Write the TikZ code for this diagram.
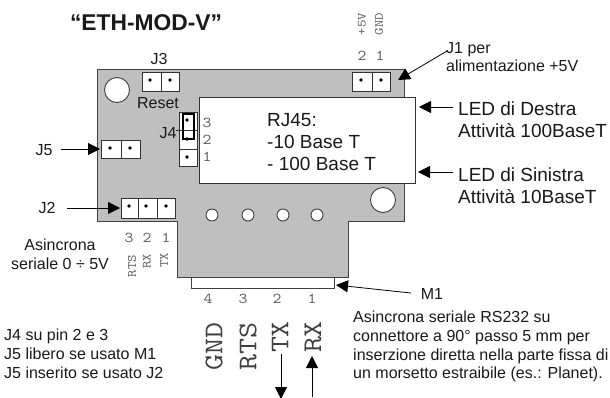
\documentclass[tikz,border=0pt]{standalone}
\usepackage{fontspec}
\setmainfont{Liberation Sans}
\setmonofont[FakeStretch=1.15]{Latin Modern Mono}
\usepackage{tikz}
\usetikzlibrary{arrows.meta}
\tikzset{
  pin/.style={circle, fill=black, inner sep=0pt, minimum size=3.6pt},
  hole/.style={circle, draw=black!75, fill=white, line width=0.9pt, inner sep=0pt},
  header/.style={draw=black!80, fill=white, line width=0.8pt},
  txt/.style={inner sep=0pt, text=black!90},
  small/.style={txt, font=\fontsize{16}{18.6}\selectfont},
  large/.style={txt, font=\fontsize{19}{22}\selectfont},
  mono/.style={inner sep=0pt, text=black!65, font=\ttfamily\fontsize{15}{15}\selectfont},
  monotiny/.style={inner sep=0pt, text=black!65, rotate=90, font=\ttfamily\fontsize{12.5}{12.5}\selectfont},
  monobig/.style={inner sep=0pt, text=black!75, rotate=90, font=\ttfamily\fontsize{27}{27}\selectfont},
  pointer/.style={-{Triangle[length=12pt,width=12pt]}, line width=0.8pt}
}
\begin{document}
\begin{tikzpicture}[x=1pt,y=-1pt]
      \useasboundingbox (0,0) rectangle (610,397);
      % board
      \draw[draw=black!75, fill=black!25, line width=1pt] (97,69) -- (404,69) -- (404,221) -- (348,221) -- (348,277) -- (177,277) -- (177,221) -- (97,221) -- cycle;
      \draw[draw=black!75, fill=white, line width=0.9pt] (191,277) rectangle (334,288);
      \draw[header] (199.5,97) rectangle (415,183);
      % holes
      \node[hole, minimum size=25pt] (h1) at (117,90) {};
      \node[hole, minimum size=25pt] (h2) at (383,200) {};
      \node[hole, minimum size=12pt] (h3) at (212,215) {};
      \node[hole, minimum size=12pt] (h4) at (248,215) {};
      \node[hole, minimum size=12pt] (h5) at (283,215) {};
      \node[hole, minimum size=12pt] (h6) at (317,215) {};
      % J3
      \draw[header] (142,72) rectangle (179,91) (161,72) -- (161,91);
      \node[pin] at (150,80) {};
      \node[pin] at (170,80) {};
      % J1
      \draw[header] (352,72) rectangle (390,91) (372,72) -- (372,91);
      \node[pin] at (361,80) {};
      \node[pin] at (381,80) {};
      % J5
      \draw[header] (101,140) rectangle (140,158) (121,140) -- (121,158);
      \node[pin] at (110,148) {};
      \node[pin] at (130,148) {};
      % J2
      \draw[header] (121,198) rectangle (175,218) (138,198) -- (138,218) (157,198) -- (157,218);
      \node[pin] at (129,206) {};
      \node[pin] at (146,206) {};
      \node[pin] at (166,206) {};
      % J4
      \draw[header] (179,112) rectangle (197,166) (176,130) -- (197,130) (179,149) -- (197,149);
      \node[pin] at (187,120) {};
      \node[pin] at (187,139) {};
      \node[pin] at (187,157) {};
      \draw[line width=2pt] (182.5,114) rectangle (193.5,139);
      % labels
      \node[txt, font=\bfseries\fontsize{22.8}{22.8}\selectfont] (title) at (146,22.5) {“ETH-MOD-V”};
      \node[small] (j3) at (159,59) {J3};
      \node[small] (reset) at (158,103) {Reset};
      \node[small] (j4) at (168,133) {J4};
      \node[small] (j5) at (44,150) {J5};
      \node[small] (j2) at (47,208) {J2};
      \node[mono] at (207,123) {3};
      \node[mono] at (207,140) {2};
      \node[mono] at (207,157) {1};
      \node[large, align=left, anchor=north west] (rj) at (267,113) {RJ45:\\-10 Base T\\- 100 Base T};
      \node[mono] at (362,56) {2};
      \node[mono] at (380,56) {1};
      \node[monotiny] at (362,24) {+5V};
      \node[monotiny] at (379,24) {GND};
      \node[small, font=\fontsize{16}{18}\selectfont, align=left, anchor=north west] (j1) at (446,42) {J1 per\\alimentazione +5V};
      \node[large, align=left, anchor=north west] (ledd) at (458,102) {LED di Destra\\Attività 100BaseT};
      \node[large, align=left, anchor=north west] (leds) at (458,168) {LED di Sinistra\\Attività 10BaseT};
      \node[small, align=center] (async) at (60,254) {Asincrona\\seriale 0 ÷ 5V};
      \node[mono] at (129,238) {3};
      \node[mono] at (147,238) {2};
      \node[mono] at (166,238) {1};
      \node[monotiny] at (132,266) {RTS};
      \node[monotiny] at (147,261) {RX};
      \node[monotiny] at (164,260) {TX};
      \node[mono] at (208,299) {4};
      \node[mono] at (243,299) {3};
      \node[mono] at (277,299) {2};
      \node[mono] at (312,299) {1};
      \node[small, align=left, anchor=north west] (notes) at (4,329) {J4 su pin 2 e 3\\J5 libero se usato M1\\J5 inserito se usato J2};
      \node[monobig] (gnd) at (214,346.5) {GND};
      \node[monobig] (rts) at (248,346.5) {RTS};
      \node[monobig] (tx) at (280,337) {TX};
      \node[monobig] (rx) at (313,337) {RX};
      \node[small] (m1) at (432,294) {M1};
      \node[small, align=left, anchor=north west] (m1txt) at (353,311) {Asincrona seriale RS232 su\\connettore a 90° passo 5 mm per\\inserzione diretta nella parte fissa di\\un morsetto estraibile (es.: Planet).};
      % arrows
      \coordinate (aj1) at (447,51);
      \coordinate (lj5) at (61,149);
      \coordinate (lj2) at (67,208);
      \coordinate (tj5) at (100,149);
      \coordinate (tj2) at (120,208);
      \coordinate (tj1) at (398,80);
      \coordinate (fd) at (453,107);
      \coordinate (td) at (419,107);
      \coordinate (fs) at (453,172);
      \coordinate (ts) at (418,172);
      \coordinate (fm) at (411,293);
      \coordinate (tm) at (336,285);
      \coordinate (ftx) at (281,354);
      \coordinate (ttx) at (281,399);
      \coordinate (frx) at (312,397);
      \coordinate (trx) at (312,356);
      \draw[pointer] (lj5) -- (tj5);
      \draw[pointer] (lj2) -- (tj2);
      \draw[pointer] (aj1) -- (tj1);
      \draw[pointer] (fd) -- (td);
      \draw[pointer] (fs) -- (ts);
      \draw[pointer] (fm) -- (tm);
      \draw[pointer] (ftx) -- (ttx);
      \draw[pointer] (frx) -- (trx);
    \end{tikzpicture}
\end{document}
